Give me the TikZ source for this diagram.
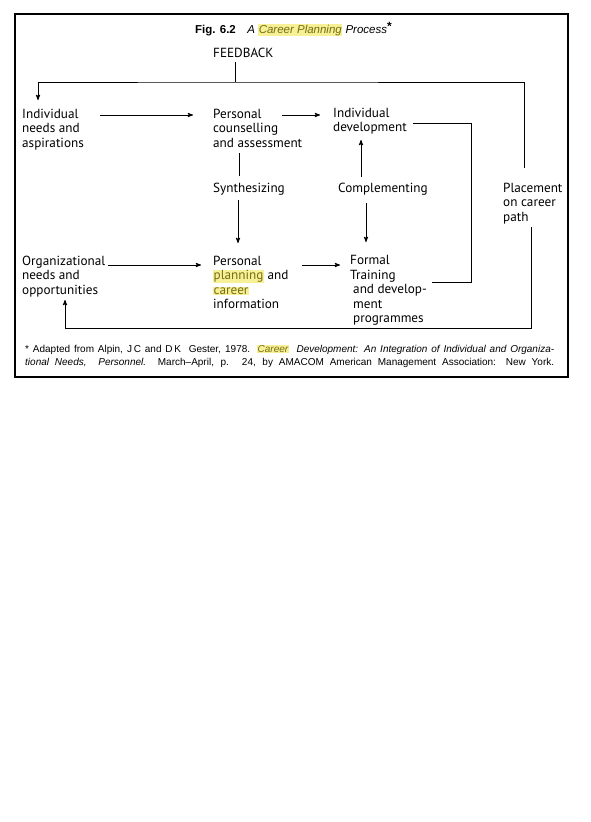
\documentclass[tikz,border=0pt]{standalone}
\usepackage{fontspec}
\setmainfont{PT Sans}
\newfontfamily\notefont[Ligatures=TeX]{Liberation Sans}
\usetikzlibrary{calc}
\usetikzlibrary{arrows}
\definecolor{hlback}{RGB}{246,240,150}
\definecolor{hltext}{RGB}{120,110,20}
\newcommand{\hlword}[1]{{\setlength{\fboxsep}{0.5pt}\colorbox{hlback}{\textcolor{hltext}{#1}}}}
\tikzset{
	step text/.style={anchor=north west, inner sep=0pt, align=left, font=\fontsize{13.2}{14.5}\selectfont},
	link/.style={line width=0.9pt},
	link arrow/.style={link, ->, >=stealth'},
}

\begin{document}
\begin{tikzpicture}[x=1pt,y=-1pt]
		\useasboundingbox (0,0) rectangle (591,822);
		\draw[line width=1.4pt] (15,14) rectangle (568,377);
		\node[anchor=base west, inner sep=0pt, font=\notefont\fontsize{11.5}{14}\selectfont] (title) at (195,33)
			{\textbf{Fig. 6.2}\quad\textit{A \hlword{Career Planning} Process}\raisebox{3pt}{\large\textbf{*}}};
		\node[step text] (fb) at (213,48) {FEEDBACK};
		\node[step text] (indiv) at (22,108.5) {Individual\\needs and\\aspirations};
		\node[step text] (counsel) at (213,108.5) {Personal\\counselling\\and assessment};
		\node[step text] (devel) at (333,107.5) {Individual\\development};
		\node[step text] (synth) at (213,182.5) {Synthesizing};
		\node[step text] (compl) at (338,182.5) {Complementing};
		\node[step text] (place) at (503,182.5) {Placement\\on career\\path};
		\node[step text] (org) at (22,255.5) {Organizational\\needs and\\opportunities};
		\node[step text] (plan) at (213,255.5) {Personal\\\hlword{planning} and\\\hlword{career}\\information};
		\node[step text] (formal) at (350,255.5) {Formal\\Training\\\hspace*{3pt}and develop-\\\hspace*{3pt}ment\\\hspace*{3pt}programmes};
		\node[anchor=north west, inner sep=0pt, text width=529pt, align=justify, font=\notefont\fontsize{10}{13}\selectfont] (note) at (25,344.5)
			{* Adapted from Alpin, J\,C and D\,K\ \ Gester, 1978. \textit{\hlword{Career}\ \ Development: An Integration of Individual and Organiza-}\linebreak
			\textit{tional Needs,\ \ Personnel.}\ \ March--April, p. 24, by AMACOM American Management Association: New York.\parfillskip=0pt\par};
		% feedback loop
		\coordinate (fbjoin) at ($ (fb.north west) + (22,34) $);
		\draw[link] ($ (fb.north west) + (22,14) $) -- (fbjoin);
		\draw[link arrow] ($ (place.north west) + (21,-14.5) $) |- (fbjoin) -| ($ (indiv.north west) + (16,-8.5) $);
		\draw[link arrow] ($ (indiv.north west) + (78,6.5) $) -- ($ (counsel.north west) + (-20,6.5) $);
		\draw[link arrow] ($ (counsel.north west) + (69,6.5) $) -- ($ (devel.north west) + (-13,7.5) $);
		\draw[link] ($ (counsel.north west) + (26,44.5) $) -- ($ (synth.north west) + (26,-6.5) $);
		\draw[link arrow] ($ (synth.north west) + (25,17.5) $) -- ($ (plan.north west) + (25,-12.5) $);
		\draw[link arrow] ($ (compl.north west) + (23,-5.5) $) -- ($ (devel.north west) + (28,32.5) $);
		\draw[link arrow] ($ (compl.north west) + (28,20.5) $) -- ($ (formal.north west) + (16,-13.5) $);
		\draw[link arrow] ($ (org.north west) + (86,9.5) $) -- ($ (plan.north west) + (-12,9.5) $);
		\draw[link arrow] ($ (plan.north west) + (89,9.5) $) -- ($ (formal.north west) + (-10,9.5) $);
		\draw[link] ($ (devel.north west) + (80,15.5) $) -| ($ (formal.north west) + (121,26.5) $) -- ($ (formal.north west) + (82,26.5) $);
		\draw[link arrow] ($ (place.north west) + (28,44.5) $) |- ($ (org.north west) + (43,72.5) $) -- ($ (org.north west) + (43,44.5) $);
	\end{tikzpicture}
\end{document}
